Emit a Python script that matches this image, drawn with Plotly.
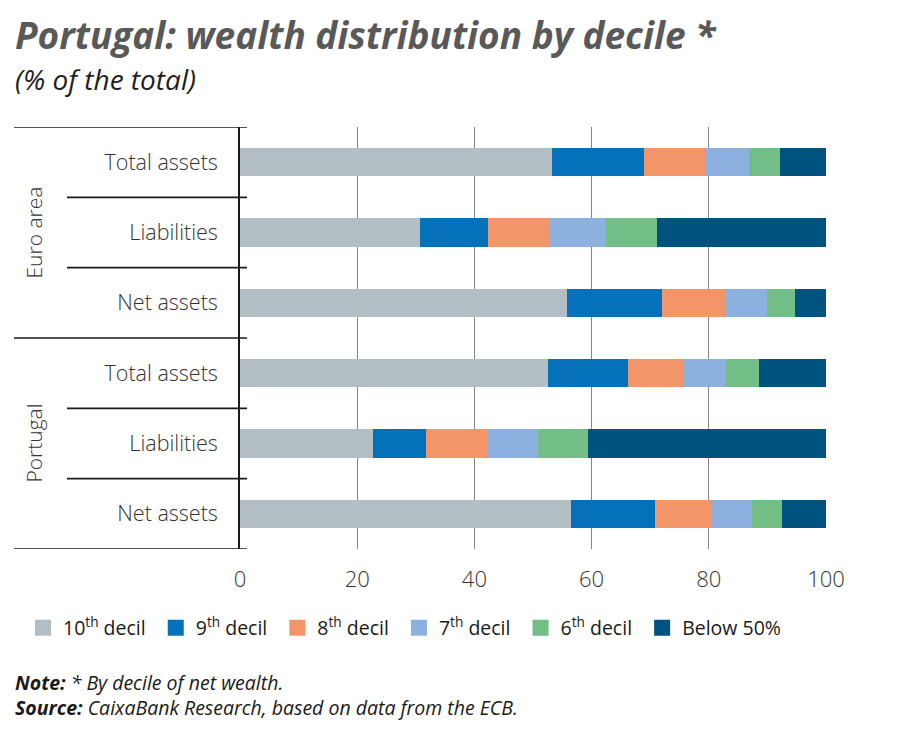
import plotly.graph_objects as go

rows = ["Total assets", "Liabilities", "Net assets", "Total assets", "Liabilities", "Net assets"]
groups = ["Euro area", "Portugal"]
series_names = ["10<sup>th</sup> decil", "9<sup>th</sup> decil", "8<sup>th</sup> decil",
                "7<sup>th</sup> decil", "6<sup>th</sup> decil", "Below 50%"]
d10 = [53.2, 30.8, 55.8, 52.5, 22.7, 56.4]
d9 = [15.7, 11.5, 16.2, 13.7, 9.1, 14.4]
d8 = [10.4, 10.5, 10.7, 9.6, 10.5, 9.5]
d7 = [7.5, 9.7, 7.2, 7.1, 8.6, 7.0]
d6 = [5.4, 8.7, 4.8, 5.7, 8.5, 5.2]
below50 = [7.8, 28.8, 5.3, 11.4, 40.6, 7.5]
x_ticks = [0, 20, 40, 60, 80, 100]

colors = ["#b2bec3", "#0571ba", "#f29669", "#8cb0e0", "#73bd86", "#00527f"]
FONT = "Open Sans"

# page body has an 8px margin: shrink figure so it fits the 900x755 window
OFF = 8
W, H = 900 - OFF, 755 - OFF
# plot area in reference-pixel coordinates
PX0, PX1, PY0, PY1 = 240, 826, 127, 549
L, T = PX0 - OFF, PY0 - OFF
R, B = W - (PX1 - OFF), H - (PY1 - OFF)
PW, PH = PX1 - PX0, PY1 - PY0


def xp(px):
    return (px - PX0) / PW


def yp(py):
    return (PY1 - py) / PH


fig = go.Figure()
ypos = list(range(len(rows)))
for name, vals, col in zip(series_names, [d10, d9, d8, d7, d6, below50], colors):
    fig.add_trace(go.Bar(y=ypos, x=vals, orientation="h", name=name, showlegend=False,
                         marker=dict(color=col, line=dict(width=0)), width=0.4))
# legend entries with larger square swatches
for name, col in zip(series_names, colors):
    fig.add_trace(go.Scatter(x=[None], y=[None], mode="markers", name=name + "\u00a0",
                             marker=dict(symbol="square", size=16, color=col)))

shapes = []
for i in range(len(rows) + 1):
    yv = i - 0.5
    full = i in (0, 3, 6)
    shapes.append(dict(type="line", xref="paper", yref="y",
                       x0=xp(14) if full else xp(67), x1=xp(247), y0=yv, y1=yv,
                       line=dict(color="#1a1a1a", width=1.6)))

annotations = [
    dict(text="<b><i>Portugal: wealth distribution by decile *</i></b>", x=xp(13), y=yp(35),
         xref="paper", yref="paper", xanchor="left", yanchor="middle", showarrow=False,
         font=dict(family=FONT, size=37, color="#595959")),
    dict(text="<i>(% of the total)</i>", x=xp(13), y=yp(79),
         xref="paper", yref="paper", xanchor="left", yanchor="middle", showarrow=False,
         font=dict(family=FONT, size=28, color="#1e1e1e")),
    dict(text="<b><i>Note:</i></b><i> * By decile of net wealth.</i><br>"
              "<b><i>Source:</i></b><i> CaixaBank Research, based on data from the ECB.</i>",
         x=xp(13), y=yp(695), align="left",
         xref="paper", yref="paper", xanchor="left", yanchor="middle", showarrow=False,
         font=dict(family=FONT, size=19.5, color="#1a1a1a")),
]
for gi, g in enumerate(groups):
    annotations.append(dict(text=g, x=xp(33), y=gi * 3 + 1, xref="paper", yref="y",
                            xanchor="center", yanchor="middle", textangle=-90, showarrow=False,
                            font=dict(family=FONT, size=21, color="#333333", weight=300)))

fig.update_layout(
    width=W, height=H, barmode="stack",
    margin=dict(l=L, r=R, t=T, b=B),
    paper_bgcolor="white", plot_bgcolor="white",
    font=dict(family=FONT, color="#333333"),
    shapes=shapes, annotations=annotations,
    xaxis=dict(range=[0, 100], tickvals=x_ticks, showgrid=True, gridcolor="#858585", gridwidth=1.3,
               zeroline=False, showline=False, ticks="",
               tickfont=dict(size=22, color="#333333", weight=300),
               ticklabelstandoff=15, fixedrange=True),
    yaxis=dict(tickvals=ypos, ticktext=rows, range=[len(rows) - 0.5, -0.5], showgrid=False,
               zeroline=False, showline=True, linecolor="#1a1a1a", linewidth=1.6, ticks="",
               tickfont=dict(size=21.5, color="#333333", weight=300), ticklabelstandoff=16,
               fixedrange=True),
    legend=dict(orientation="h", x=xp(23), y=yp(628), xanchor="left", yanchor="middle",
                font=dict(size=19.5, color="#1a1a1a"), traceorder="normal", itemclick=False,
                itemsizing="trace"),
    showlegend=True,
)

fig.write_html("out.html")
